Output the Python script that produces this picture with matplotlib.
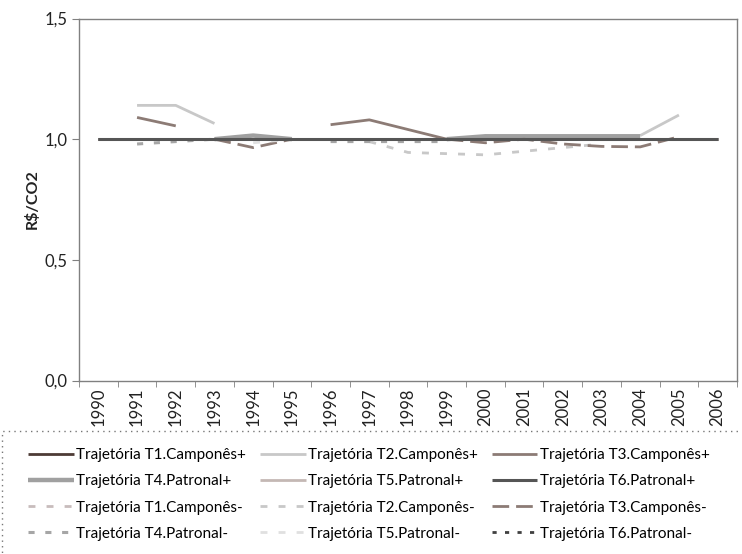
import numpy as np
import matplotlib
matplotlib.use("Agg")
import matplotlib.pyplot as plt
from matplotlib.patches import Rectangle
from matplotlib.ticker import FixedLocator, FuncFormatter

plt.rcParams['font.family'] = ['Lato', 'DejaVu Sans']

years = ['1990', '1991', '1992', '1993', '1994', '1995', '1996', '1997', '1998',
         '1999', '2000', '2001', '2002', '2003', '2004', '2005', '2006']
nan = np.nan

# trajetórias "+" (cenário alto)
t1_camp_pos = [1.0, 1.0, 1.0, 1.0, 1.0, 1.0, 1.0, 1.0, 1.0, 1.0, 1.0, 1.0, 1.0, 1.0, 1.0, 1.0, 1.0]
t2_camp_pos = [nan, 1.14, 1.14, 1.065, nan, nan, nan, nan, nan, nan, nan, nan, nan, nan, 1.015, 1.10, nan]
t3_camp_pos = [nan, 1.09, 1.055, nan, nan, nan, 1.06, 1.08, 1.04, 1.0, nan, nan, nan, nan, nan, nan, nan]
t4_pat_pos = [nan, nan, nan, 1.0, 1.015, 1.0, nan, nan, nan, 1.0, 1.012, 1.012, 1.012, 1.012, 1.012, nan, nan]
t5_pat_pos = [1.0, 1.0, 1.0, 1.0, 1.0, 1.0, 1.0, 1.0, 1.0, 1.0, 1.0, 1.0, 1.0, 1.0, 1.0, 1.0, 1.0]
t6_pat_pos = [1.0, 1.0, 1.0, 1.0, 1.0, 1.0, 1.0, 1.0, 1.0, 1.0, 1.0, 1.0, 1.0, 1.0, 1.0, 1.0, 1.0]

# trajetórias "-" (cenário baixo)
t1_camp_neg = [1.0, 1.0, 1.0, 1.0, 1.0, 1.0, 1.0, 1.0, 1.0, 1.0, 1.0, 1.0, 1.0, 1.0, 1.0, 1.0, 1.0]
t2_camp_neg = [nan, nan, nan, nan, nan, nan, nan, 0.99, 0.945, 0.94, 0.935, 0.95, 0.965, 0.98, nan, nan, nan]
t3_camp_neg = [nan, nan, nan, 1.0, 0.965, 1.0, nan, nan, nan, 1.0, 0.985, 1.0, 0.98, 0.97, 0.968, 1.01, nan]
t4_pat_neg = [nan, 0.98, 0.99, 1.0, nan, nan, 0.99, 0.99, 0.99, 0.99, nan, nan, nan, nan, nan, nan, nan]
t5_pat_neg = [nan, nan, nan, nan, 0.985, 1.0, nan, nan, nan, nan, nan, nan, nan, nan, nan, nan, nan]
t6_pat_neg = [1.0, 1.0, 1.0, 1.0, 1.0, 1.0, 1.0, 1.0, 1.0, 1.0, 1.0, 1.0, 1.0, 1.0, 1.0, 1.0, 1.0]

series = [
    ('Trajetória T1.Camponês+', t1_camp_pos, '#4d3b36', '-', 2.0, 2),
    ('Trajetória T2.Camponês+', t2_camp_pos, '#c8c8c8', '-', 2.0, 2),
    ('Trajetória T3.Camponês+', t3_camp_pos, '#8c7b75', '-', 2.0, 2),
    ('Trajetória T4.Patronal+', t4_pat_pos, '#a0a0a0', '-', 3.2, 2),
    ('Trajetória T5.Patronal+', t5_pat_pos, '#c4b8b4', '-', 2.0, 2),
    ('Trajetória T6.Patronal+', t6_pat_pos, '#555555', '-', 2.2, 4),
    ('Trajetória T1.Camponês-', t1_camp_neg, '#c8bcbc', (0, (2.5, 4)), 2.0, 3),
    ('Trajetória T2.Camponês-', t2_camp_neg, '#c8c8c8', (0, (2.5, 4)), 2.0, 3),
    ('Trajetória T3.Camponês-', t3_camp_neg, '#8c7b75', (0, (6, 2.5)), 2.0, 3),
    ('Trajetória T4.Patronal-', t4_pat_neg, '#a6a6a6', (0, (2, 3.5)), 2.2, 3),
    ('Trajetória T5.Patronal-', t5_pat_neg, '#e0e0e0', (0, (2.5, 4)), 2.0, 3),
    ('Trajetória T6.Patronal-', t6_pat_neg, '#404040', (0, (1.5, 3)), 2.0, 3),
]

fig = plt.figure(figsize=(7.42, 5.54), dpi=100)
ax = fig.add_axes([79 / 742, 1 - 380.5 / 554, 658 / 742, 362 / 554])

x = np.arange(len(years))
lines = []
for label, vals, color, ls, lw, z in series:
    ln, = ax.plot(x, np.array(vals, dtype=float), color=color, linestyle=ls,
                  linewidth=lw, zorder=z, label=label, solid_capstyle='butt',
                  dash_capstyle='butt')
    lines.append(ln)

ax.set_xlim(-0.5, len(years) - 0.5)
ax.set_ylim(0, 1.5)
ax.set_yticks([0, 0.5, 1.0, 1.5])
ax.yaxis.set_major_formatter(FuncFormatter(lambda v, p: f'{v:.1f}'.replace('.', ',')))
ax.set_xticks(x)
ax.set_xticklabels(years, rotation=90)
ax.xaxis.set_minor_locator(FixedLocator(np.arange(-0.5, len(years), 1.0)))
ax.tick_params(axis='x', which='major', length=0, pad=5, labelsize=12, colors='#222222')
ax.tick_params(axis='x', which='minor', length=4, color='#808080', direction='out')
ax.tick_params(axis='y', length=5, color='#808080', direction='out', labelsize=12,
               labelcolor='#222222', pad=3)
for sp in ax.spines.values():
    sp.set_color('#808080')
    sp.set_linewidth(1.0)

ax.set_ylabel('R$/CO2', fontsize=11.5, fontweight='bold', color='#222222')
ax.yaxis.set_label_coords(-0.059, 0.5)

# legenda em 3 colunas (preenchida por coluna)
order = [0, 3, 6, 9, 1, 4, 7, 10, 2, 5, 8, 11]
fig.legend([lines[i] for i in order], [series[i][0] for i in order],
           loc='upper left', bbox_to_anchor=(22 / 742, 1 - 442 / 554), ncol=3,
           frameon=False, fontsize=11, handlelength=3.0, handletextpad=0.15,
           columnspacing=0.9, labelspacing=0.8, borderaxespad=0)

# moldura pontilhada da legenda
frame_top = 1 - 431 / 554
fig.add_artist(Rectangle((2 / 742, -0.2), 1.2, frame_top + 0.2,
                         transform=fig.transFigure, fill=False,
                         linestyle=(0, (1, 3)), edgecolor='#777777', linewidth=1.0))

fig.savefig('out.png', dpi=100)
